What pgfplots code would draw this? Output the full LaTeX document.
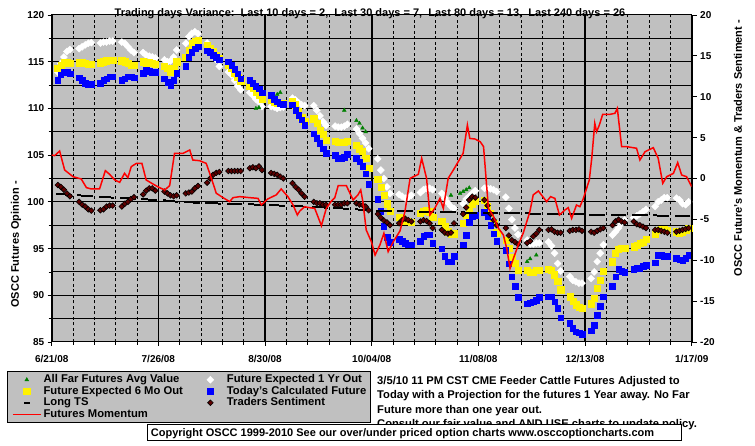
\documentclass[border=0pt]{standalone}
\usepackage{pgfplots}
\pgfplotsset{compat=1.18}
\usepackage{fontspec}
\setmainfont{Liberation Sans}
\definecolor{chartgray}{RGB}{192,192,192}
\definecolor{fgreen}{RGB}{0,128,0}
\definecolor{tsred}{RGB}{96,0,0}
\newcommand{\fs}[1]{\fontsize{#1bp}{#1bp}\selectfont\bfseries}
\pgfplotsset{
  marklegend/.style={legend image code/.code={\path (0bp,0bp) (28bp,0bp); \draw[##1] plot coordinates {(14bp,0bp)};}},
  linelegend/.style={legend image code/.code={\draw[##1] (0bp,0bp) -- (28bp,0bp);}},
}
\begin{document}
\begin{tikzpicture}
\path[use as bounding box] (0bp,0bp) rectangle (755bp,446bp);
\fill[white] (0bp,0bp) rectangle (755bp,446bp);
\begin{axis}[
  at={(51.7bp,104bp)}, anchor=south west, scale only axis,
  width=640bp, height=327bp,
  xmin=0, xmax=210, ymin=85, ymax=120,
  axis background/.style={fill=chartgray},
  xtick={0,35,...,210},
  xticklabels={6/21/08,7/26/08,8/30/08,10/04/08,11/08/08,12/13/08,1/17/09},
  minor x tick num=4,
  ytick={85,90,...,120},
  yticklabels={85,90,95,100,105,110,115,120},
  minor y tick num=1,
  grid=both,
  major x grid style={black, line width=1.6bp},
  minor x grid style={black, line width=0.8bp, dash pattern=on 3bp off 2.5bp},
  major y grid style={black, line width=1bp},
  minor y grid style={black, line width=1bp},
  xtick pos=bottom, ytick pos=left,
  tick align=outside, major tick length=4bp, minor tick length=3bp,
  tick style={black, line width=0.8bp},
  axis line style={black, line width=1bp},
  xticklabel style={font=\fs{10}, yshift=-6bp},
  yticklabel style={font=\fs{10}},
  ylabel={OSCC Futures Opinion -},
  every axis y label/.style={at={(axis description cs:-0.0558,0.298)}, rotate=90, anchor=center, font=\fs{11}},
]
% Future Expected 1 Yr Out
\addplot[only marks, mark=square*, mark size=2.5bp, mark options={rotate=45, fill=white, draw=white}] coordinates {
(2,113.9)(3,114.8)(4,115.5)(5,116.1)(6,116.3)
(9,116.4)(10,116.6)(11,116.8)(12,116.97)(13,117.04)
(16,117.0)(17,117.1)(18,117.1)(19,117.2)(20,117.2)
(23,117.1)(24,116.97)(25,116.6)(26,116.25)(27,115.97)
(30,115.97)(31,115.7)(32,115.6)(33,115.5)(34,115.4)
(37,115.2)(38,115.0)(39,115.1)(40,115.5)(41,116.25)
(44,116.97)(45,117.7)(46,118.04)(47,118.2)(48,118.0)
(51,117.0)(52,116.4)(53,115.9)(54,115.2)(55,114.5)
(58,113.9)(59,113.6)(60,113.0)(61,112.4)(62,112.0)
(65,111.7)(66,111.4)(67,111.0)(68,110.7)(69,110.2)
(72,110.2)(73,110.15)(74,110.0)(75,110.1)(76,110.15)
(79,111.1)(80,110.9)(81,110.6)(82,110.4)(83,110.3)
(86,110.3)(87,109.8)(88,109.2)(89,108.6)(90,108.2)
(93,108.1)(94,108.0)(95,108.0)(96,108.1)(97,108.3)
(100,107.8)(101,107.3)(102,106.8)(103,106.3)(104,105.7)
(107,104.6)(108,103.4)(109,102.5)(110,101.6)(111,100.9)
(114,100.8)(115,100.6)(116,100.4)(117,100.5)(118,100.7)
(121,101.0)(122,101.3)(123,101.45)(124,101.45)(125,101.3)
(128,100.9)(129,100.4)(130,99.9)(131,99.5)(132,99.3)
(135,99.8)(136,100.3)(137,100.6)(138,100.9)(139,101.2)
(142,101.45)(143,101.45)(144,101.4)(145,101.3)(146,101.1)
(149,100.5)(150,99.3)(151,98.1)(152,97.2)(153,96.5)
(156,95.9)(157,95.5)(158,95.5)(159,95.6)(160,95.6)
(163,95.7)(164,95.3)(165,94.5)(166,93.4)(167,92.6)
(170,92.0)(171,91.6)(172,91.45)(173,91.3)(174,91.3)
(177,91.8)(178,92.5)(179,93.6)(180,94.5)(181,95.4)
(184,96.45)(185,96.8)(186,97.2)(187,97.7)(188,98.06)
(191,98.3)(192,98.5)(193,98.7)(194,98.95)(195,99.2)
(198,99.5)(199,100.0)(200,100.2)(201,100.45)(202,100.45)
(205,100.4)(206,100.2)(207,99.8)(208,99.7)(209,100.0)
};
% Future Expected 6 Mo Out
\addplot[only marks, mark=square*, mark size=3.1bp, mark options={fill=yellow, draw=yellow}] coordinates {
(2,114.3)(3,114.65)(4,114.9)(5,114.9)(6,114.8)
(9,114.9)(10,114.9)(11,114.8)(12,114.7)(13,114.7)
(16,114.9)(17,115.0)(18,115.1)(19,115.2)(20,115.2)
(23,115.1)(24,115.0)(25,114.8)(26,114.6)(27,114.6)
(30,115.0)(31,114.9)(32,114.9)(33,114.8)(34,114.7)
(37,114.5)(38,114.3)(39,113.9)(40,114.3)(41,115.0)
(44,115.5)(45,116.25)(46,116.95)(47,117.15)(48,117.25)
(51,116.8)(52,116.4)(53,116.1)(54,115.7)(55,115.4)
(58,114.65)(59,114.3)(60,113.8)(61,113.3)(62,112.9)
(65,112.4)(66,112.15)(67,111.8)(68,111.4)(69,111.0)
(72,110.9)(73,110.7)(74,110.55)(75,110.55)(76,110.6)
(79,110.8)(80,110.4)(81,109.7)(82,109.1)(83,108.65)
(86,108.9)(87,108.4)(88,107.7)(89,107.2)(90,106.6)
(93,106.5)(94,106.4)(95,106.4)(96,106.4)(97,106.5)
(100,106.1)(101,105.7)(102,105.4)(103,104.7)(104,103.6)
(107,102.4)(108,101.6)(109,100.7)(110,99.8)(111,99.0)
(114,98.4)(115,98.2)(116,97.95)(117,97.9)(118,97.8)
(121,98.8)(122,99.0)(123,99.1)(124,98.95)(125,98.4)
(128,97.9)(129,97.35)(130,96.8)(131,96.6)(132,96.6)
(135,97.7)(136,98.6)(137,99.3)(138,99.8)(139,100.1)
(142,100.2)(143,99.5)(144,98.8)(145,97.7)(146,96.7)
(149,95.9)(150,95.0)(151,94.1)(152,93.4)(153,92.7)
(156,92.7)(157,92.5)(158,92.5)(159,92.7)(160,92.7)
(163,92.8)(164,92.7)(165,92.2)(166,91.5)(167,90.6)
(170,89.85)(171,89.4)(172,89.0)(173,88.7)(174,88.6)
(177,89.1)(178,89.7)(179,90.75)(180,91.6)(181,92.6)
(184,93.6)(185,94.5)(186,94.9)(187,95.0)(188,95.0)
(191,95.2)(192,95.4)(193,95.6)(194,95.7)(195,96.0)
(198,96.6)(199,97.0)(200,97.06)(201,97.06)(202,97.0)
(205,96.8)(206,96.7)(207,96.8)(208,97.0)(209,97.2)
};
% Today's Calculated Future
\addplot[only marks, mark=square*, mark size=2.8bp, mark options={fill=blue, draw=blue}] coordinates {
(2,113.0)(3,113.6)(4,113.9)(5,113.9)(6,113.7)
(9,113.3)(10,113.0)(11,112.7)(12,112.6)(13,112.6)
(16,112.7)(17,113.0)(18,113.2)(19,113.4)(20,113.4)
(23,113.0)(24,113.2)(25,113.4)(26,113.4)(27,113.3)
(30,113.8)(31,114.1)(32,114.0)(33,113.9)(34,113.9)
(37,113.2)(38,112.8)(39,112.5)(40,113.0)(41,113.8)
(44,114.5)(45,115.5)(46,116.0)(47,116.4)(48,116.6)
(51,116.2)(52,116.0)(53,115.7)(54,115.5)(55,115.2)
(58,115.0)(59,114.6)(60,114.2)(61,113.7)(62,113.2)
(65,113.0)(66,112.7)(67,112.4)(68,112.1)(69,111.7)
(72,111.4)(73,111.0)(74,110.7)(75,110.5)(76,110.45)
(79,110.4)(80,109.8)(81,109.3)(82,108.8)(83,108.2)
(86,107.3)(87,106.8)(88,106.3)(89,105.7)(90,105.2)
(93,105.0)(94,104.7)(95,104.6)(96,104.8)(97,105.1)
(100,104.7)(101,104.3)(102,103.8)(103,103.0)(104,101.9)
(107,100.3)(108,99.0)(109,97.4)(110,96.2)(111,95.7)
(114,96.0)(115,95.8)(116,95.6)(117,95.4)(118,95.4)
(121,95.8)(122,96.3)(123,96.5)(124,96.5)(125,95.6)
(128,95.0)(129,94.2)(130,93.6)(131,93.6)(132,94.2)
(135,95.4)(136,96.4)(137,97.8)(138,98.4)(139,98.6)
(142,98.9)(143,98.4)(144,97.5)(145,96.6)(146,95.8)
(149,94.85)(150,93.4)(151,92.0)(152,91.0)(153,89.8)
(156,89.1)(157,89.2)(158,89.3)(159,89.5)(160,89.8)
(163,89.85)(164,89.85)(165,89.3)(166,88.6)(167,87.6)
(170,87.0)(171,86.5)(172,86.1)(173,86.0)(174,85.85)
(177,86.2)(178,86.8)(179,87.9)(180,88.8)(181,89.85)
(184,91.0)(185,92.0)(186,92.8)(187,92.6)(188,92.5)
(191,92.8)(192,92.9)(193,92.9)(194,93.1)(195,93.2)
(198,93.5)(199,94.3)(200,94.3)(201,94.2)(202,94.2)
(205,93.95)(206,93.8)(207,93.7)(208,93.95)(209,94.3)
};
% All Far Futures Avg Value
\addplot[only marks, mark=triangle*, mark size=2.2bp, mark options={fill=fgreen, draw=fgreen}] coordinates {
(67,110.0)(68,110.1)(74,111.5)(75,111.7)(96,109.8)
(100,108.7)(101,108.4)(102,107.9)(103,107.5)
(131,100.7)(134,100.9)(135,101.1)(136,101.3)(137,101.5)
(156,93.6)(157,93.9)(159,94.3)
};
% Long TS
\addplot[only marks, mark=-, mark size=1.65bp, mark options={draw=black, line width=2bp}] coordinates {
(2,100.85)(3,100.82)(4,100.8)(5,100.77)(6,100.74)
(9,100.7)(10,100.67)(11,100.64)(12,100.61)(13,100.58)
(16,100.55)(17,100.52)(18,100.5)(19,100.47)(20,100.45)
(23,100.42)(24,100.4)(25,100.37)(26,100.35)(27,100.32)
(30,100.3)(31,100.27)(32,100.24)(33,100.21)(34,100.18)
(37,100.15)(38,100.12)(39,100.09)(40,100.06)(41,100.03)
(44,100.0)(45,99.97)(46,99.95)(47,99.92)(48,99.9)
(51,99.87)(52,99.86)(53,99.84)(54,99.83)(55,99.81)
(58,99.8)(59,99.78)(60,99.77)(61,99.75)(62,99.74)
(65,99.73)(66,99.72)(67,99.7)(68,99.69)(69,99.68)
(72,99.67)(73,99.65)(74,99.63)(75,99.61)(76,99.59)
(79,99.57)(80,99.55)(81,99.53)(82,99.51)(83,99.49)
(86,99.47)(87,99.45)(88,99.42)(89,99.4)(90,99.37)
(93,99.35)(94,99.32)(95,99.29)(96,99.26)(97,99.23)
(100,99.2)(101,99.17)(102,99.14)(103,99.11)(104,99.08)
(107,99.05)(108,99.04)(109,99.03)(110,99.02)(111,99.01)
(114,99.0)(115,98.99)(116,98.98)(117,98.97)(118,98.97)
(121,98.96)(122,98.95)(123,98.94)(124,98.93)(125,98.93)
(128,98.92)(129,98.91)(130,98.9)(131,98.89)(132,98.88)
(135,98.87)(136,98.86)(137,98.85)(138,98.84)(139,98.84)
(142,98.83)(143,98.82)(144,98.82)(145,98.81)(146,98.8)
(149,98.8)(150,98.79)(151,98.78)(152,98.77)(153,98.77)
(156,98.76)(157,98.75)(158,98.74)(159,98.73)(160,98.73)
(163,98.72)(164,98.71)(165,98.7)(166,98.69)(167,98.69)
(170,98.68)(171,98.67)(172,98.66)(173,98.65)(174,98.65)
(177,98.64)(178,98.63)(179,98.62)(180,98.61)(181,98.61)
(184,98.6)(185,98.59)(186,98.59)(187,98.58)(188,98.58)
(191,98.57)(192,98.56)(193,98.56)(194,98.55)(195,98.55)
(198,98.54)(199,98.53)(200,98.53)(201,98.52)(202,98.52)
(205,98.51)(206,98.51)(207,98.5)(208,98.5)(209,98.5)
};
% Traders Sentiment
\addplot[only marks, mark=square*, mark size=2bp, mark options={rotate=45, fill=tsred, draw=black, line width=0.6bp}] coordinates {
(2,101.8)(3,101.6)(4,101.3)(5,100.9)(6,100.6)
(9,100.0)(10,99.7)(11,99.5)(12,99.2)(13,99.06)
(16,99.1)(17,99.2)(18,99.5)(19,99.6)(20,99.6)
(23,99.5)(24,99.8)(25,100.0)(26,100.3)(27,100.5)
(30,100.8)(31,101.2)(32,101.45)(33,101.45)(34,101.2)
(37,101.1)(38,100.9)(39,100.7)(40,100.6)(41,100.7)
(44,100.9)(45,101.0)(46,101.1)(47,101.45)(48,101.7)
(51,102.05)(52,102.5)(53,102.9)(54,103.1)(55,103.2)
(58,103.3)(59,103.3)(60,103.3)(61,103.3)(62,103.3)
(65,103.6)(66,103.7)(67,103.6)(68,103.8)(69,103.4)
(72,103.1)(73,103.0)(74,102.9)(75,102.7)(76,102.5)
(79,102.0)(80,101.6)(81,101.3)(82,100.9)(83,100.55)
(86,100.0)(87,99.85)(88,99.85)(89,99.7)(90,99.7)
(93,99.7)(94,99.7)(95,99.7)(96,99.85)(97,99.85)
(100,99.85)(101,99.7)(102,99.66)(103,99.5)(104,99.1)
(107,98.7)(108,98.3)(109,98.0)(110,97.8)(111,97.5)
(114,97.7)(115,98.05)(116,98.2)(117,98.05)(118,97.9)
(121,97.9)(122,98.05)(123,97.95)(124,97.7)(125,97.2)
(128,97.0)(129,96.7)(130,96.6)(131,96.7)(132,97.7)
(135,98.7)(136,99.4)(137,100.2)(138,100.56)(139,100.45)
(142,100.2)(143,99.6)(144,98.7)(145,98.05)(146,97.5)
(149,97.2)(150,96.4)(151,95.9)(152,95.7)(153,95.45)
(156,95.6)(157,95.8)(158,96.3)(159,96.6)(160,97.0)
(163,97.0)(164,97.06)(165,96.8)(166,96.7)(167,96.7)
(170,96.9)(171,97.0)(172,97.0)(173,97.06)(174,96.9)
(177,96.8)(178,96.7)(179,96.9)(180,97.06)(181,97.2)
(184,97.5)(185,97.9)(186,98.1)(187,97.9)(188,97.8)
(191,97.9)(192,97.6)(193,97.5)(194,97.35)(195,97.2)
(198,97.0)(199,97.0)(200,96.9)(201,96.8)(202,96.7)
(205,96.8)(206,96.9)(207,97.0)(208,97.1)(209,97.2)
};
\end{axis}
\begin{axis}[
  at={(51.7bp,104bp)}, anchor=south west, scale only axis,
  width=640bp, height=327bp,
  xmin=0, xmax=210, ymin=-20, ymax=20,
  axis x line=none, axis y line*=right,
  ytick={-20,-15,...,20},
  yticklabels={-20,-15,-10,-5,0,5,10,15,20},
  tick align=outside, major tick length=5bp,
  tick style={black, line width=0.8bp},
  axis line style={black, line width=1bp},
  yticklabel style={font=\fs{10}},
  ylabel={OSCC Future's Momentum \& Traders Sentiment -},
  every axis y label/.style={at={(axis description cs:1.0723,0.593)}, rotate=90, anchor=center, font=\fs{11}},
  legend columns=2,
  legend cell align=left,
  legend style={at={(axis description cs:-0.0698,-0.0887)}, anchor=north west,
    fill=chartgray, draw=black, line width=1bp, font=\fs{11.25},
    inner xsep=4.5bp, inner ysep=2.5bp,
    nodes={inner sep=0bp, text height=8.5bp, text depth=3bp},
    /tikz/every odd column/.append style={column sep=2bp},
    /tikz/every even column/.append style={column sep=13bp}},
  marklegend,
]
\addlegendimage{only marks, mark=triangle*, mark size=2.2bp, mark options={fill=fgreen, draw=fgreen, line width=0.4bp}}
\addlegendentry{All Far Futures Avg Value}
\addlegendimage{only marks, mark=square*, mark size=2.5bp, mark options={rotate=45, fill=white, draw=white, line width=0.4bp}}
\addlegendentry{Future Expected 1 Yr Out}
\addlegendimage{only marks, mark=square*, mark size=3.1bp, mark options={fill=yellow, draw=yellow, line width=0.4bp}}
\addlegendentry{Future Expected 6 Mo Out}
\addlegendimage{only marks, mark=square*, mark size=2.8bp, mark options={fill=blue, draw=blue, line width=0.4bp}}
\addlegendentry{Today's Calculated Future}
\addlegendimage{only marks, mark=-, mark size=2.8bp, mark options={draw=black, line width=2bp}}
\addlegendentry{Long TS}
\addlegendimage{only marks, mark=square*, mark size=2bp, mark options={rotate=45, fill=tsred, draw=black, line width=0.6bp}}
\addlegendentry{Traders Sentiment}
\addplot[red, line width=1.5bp, mark=none, linelegend] coordinates {
(0,2.87)(1,2.8)(2.6,3.36)(4.25,1.04)(7,0.22)(9.7,-0.06)(11.4,-1.12)(13,-1.28)(15.7,-1.28)
(17.6,0.96)(19,0.51)(20.7,-0.18)(22.3,-0.47)(23.9,0.63)(25,0.1)(26.1,1.45)(27.8,1.85)(29.6,1.85)
(31,-0.18)(33.8,-0.8)(35.4,-1.12)(37.1,-1.4)(38.7,-0.88)(40.3,3.08)(43.1,3.08)(45.3,3.49)
(46.3,2.26)(48.5,2.18)(50.7,1.85)(51.5,1.0)(52.4,0.0)(54,-1.8)(56.2,-2.34)(58.4,-2.83)
(59.5,-2.34)(61.7,-2.22)(64.9,-2.34)(67.7,-2.43)(68.8,-3.24)(70.9,-2.5)(73.7,-2.0)(75.3,-1.28)
(77.5,-2.22)(79.2,-3.24)(80.6,-4.46)(81.4,-3.98)(83,-3.45)(84.6,-3.57)(86.3,-3.65)(88.5,-5.77)
(90.1,-3.65)(91.8,-2.75)(92.9,-2.34)(94,-0.88)(96.7,-0.88)(98.9,-2.63)(100.5,-2.0)(101.4,-1.4)
(102.1,-2.83)(103.2,-6.3)(104.9,-7.73)(106.1,-9.36)(107.7,-8.13)(109,-6.7)(110.4,-8.95)
(112.1,-7.73)(114.3,-6.4)(115.9,-4.06)(117.6,0.02)(120.3,0.51)(121.4,2.47)(123,0.02)
(124.1,-4.46)(125.7,-3.65)(127.4,-2.43)(128.5,-3.65)(130.1,0.02)(131.8,1.04)(133.4,2.06)
(135,3.08)(136.4,6.54)(137.2,4.9)(138.9,4.83)(140.6,4.5)(141.7,3.9)(143.3,-3.65)(145,-4.67)
(146.6,-6.1)(148.2,-6.9)(149.3,-8.54)(150.4,-11.0)(151.5,-9.77)(153.1,-8.13)(154.7,-6.7)
(156.9,-4.06)(158,-2.0)(159.7,-1.53)(162.4,-2.83)(163.7,-2.22)(165.1,-2.43)(166.6,-4.46)
(168.4,-3.85)(169.5,-3.57)(170.6,-4.87)(172.2,-3.24)(173.3,-3.45)(174.4,-2.5)(176.4,-0.18)
(177.2,2.47)(178.2,6.75)(178.8,5.73)(179.7,6.54)(180.8,7.85)(183.2,7.85)(184.8,7.97)
(185.6,8.58)(187,3.9)(188.6,3.9)(191.9,3.7)(193,2.26)(194.7,3.28)(197.4,3.77)(199,2.47)
(200.5,-0.59)(201.8,0.22)(204,0.63)(205.4,1.94)(206.7,0.43)(208.3,0.22)(210,-1.0)
};
\addlegendentry{Futures Momentum}
\end{axis}
\node[anchor=base, font=\fs{11}] at (370bp,429.5bp) {Trading days Variance:\ \ Last 10 days = 2,\ \ Last 30 days = 7,\ \ Last 80 days = 13,\ \ Last 240 days = 26};
\node[anchor=base west, inner sep=0bp, font=\fs{11.2}] at (377bp,61bp) {3/5/10 11 PM CST CME Feeder Cattle Futures Adjusted to};
\node[anchor=base west, inner sep=0bp, font=\fs{11.2}] at (377bp,47bp) {Today with a Projection for the futures 1 Year away. No Far};
\node[anchor=base west, inner sep=0bp, font=\fs{11.2}] at (377bp,33bp) {Future more than one year out.};
\node[anchor=base west, inner sep=0bp, font=\fs{11.2}] at (377bp,19bp) {Consult our fair value and AND USE charts to update policy.};
\draw[fill=white, line width=1bp] (147.7bp,5.3bp) rectangle (681bp,21.7bp);
\node[anchor=base west, inner sep=0bp, font=\fs{11}] at (150.7bp,9.5bp) {Copyright OSCC 1999-2010 See our over/under priced option charts www.osccoptioncharts.com};
\end{tikzpicture}
\end{document}
